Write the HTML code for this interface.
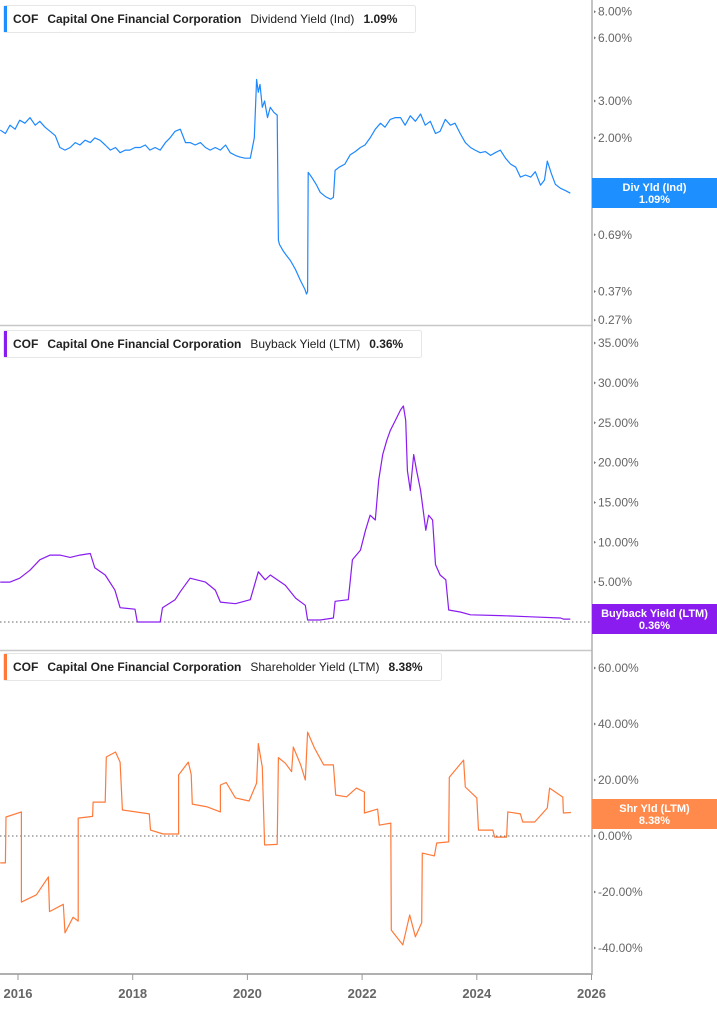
<!DOCTYPE html>
<html><head><meta charset="utf-8">
<style>
html,body{margin:0;padding:0;background:#fff;}
body{width:717px;height:1005px;overflow:hidden;font-family:"Liberation Sans",sans-serif;}
svg text{font-family:"Liberation Sans",sans-serif;}
</style></head>
<body>
<svg id="chart" width="717" height="1005" viewBox="0 0 717 1005" xmlns="http://www.w3.org/2000/svg"></svg>
<script>
const divDates=[2015.69,2015.78,2015.86,2015.95,2016.03,2016.12,2016.21,2016.3,2016.38,2016.47,2016.56,2016.65,2016.73,2016.82,2016.91,2017.0,2017.08,2017.17,2017.26,2017.34,2017.43,2017.52,2017.61,2017.7,2017.78,2017.87,2017.95,2018.04,2018.13,2018.22,2018.3,2018.39,2018.48,2018.57,2018.65,2018.74,2018.83,2018.92,2019.0,2019.09,2019.18,2019.27,2019.35,2019.44,2019.53,2019.62,2019.7,2019.79,2019.87,2019.96,2020.05,2020.12,2020.16,2020.19,2020.22,2020.26,2020.3,2020.35,2020.4,2020.46,2020.52,2020.54,2020.56,2020.62,2020.68,2020.75,2020.84,2020.92,2021.0,2021.03,2021.05,2021.06,2021.12,2021.2,2021.27,2021.36,2021.45,2021.5,2021.53,2021.6,2021.7,2021.79,2021.88,2021.97,2022.05,2022.14,2022.23,2022.32,2022.4,2022.49,2022.58,2022.67,2022.75,2022.84,2022.93,2023.02,2023.1,2023.19,2023.28,2023.36,2023.45,2023.54,2023.62,2023.71,2023.8,2023.89,2023.97,2024.06,2024.15,2024.24,2024.32,2024.41,2024.5,2024.59,2024.68,2024.76,2024.85,2024.94,2025.02,2025.11,2025.18,2025.23,2025.3,2025.37,2025.46,2025.55,2025.63];
const divValues=[2.18,2.1,2.3,2.2,2.43,2.35,2.5,2.3,2.4,2.25,2.15,2.05,1.8,1.75,1.8,1.9,1.85,1.95,1.9,2.0,1.95,1.85,1.75,1.8,1.7,1.75,1.75,1.8,1.8,1.85,1.75,1.8,1.75,1.9,2.0,2.15,2.2,1.9,1.9,1.85,1.9,1.8,1.75,1.8,1.75,1.85,1.7,1.65,1.62,1.6,1.6,2.0,3.8,3.3,3.6,2.8,3.0,2.5,2.8,2.65,2.57,0.65,0.62,0.58,0.55,0.52,0.47,0.42,0.38,0.36,0.37,1.37,1.3,1.2,1.1,1.05,1.02,1.04,1.4,1.45,1.5,1.66,1.72,1.8,1.85,2.0,2.2,2.35,2.25,2.45,2.5,2.5,2.3,2.55,2.4,2.6,2.3,2.4,2.1,2.15,2.45,2.3,2.35,2.1,1.9,1.8,1.75,1.7,1.72,1.65,1.7,1.75,1.6,1.5,1.45,1.3,1.33,1.3,1.38,1.19,1.26,1.55,1.35,1.2,1.15,1.12,1.09];

const bbDates=[2015.69,2015.86,2016.03,2016.21,2016.38,2016.56,2016.73,2016.91,2017.08,2017.26,2017.34,2017.52,2017.69,2017.78,2018.04,2018.08,2018.48,2018.52,2018.74,2018.83,2019.0,2019.27,2019.44,2019.53,2019.79,2020.05,2020.19,2020.31,2020.4,2020.66,2020.84,2021.01,2021.05,2021.27,2021.5,2021.53,2021.76,2021.83,2021.97,2022.06,2022.14,2022.23,2022.29,2022.36,2022.43,2022.49,2022.58,2022.67,2022.72,2022.76,2022.79,2022.84,2022.9,2022.95,2023.02,2023.11,2023.16,2023.23,2023.28,2023.36,2023.46,2023.51,2023.71,2023.89,2024.41,2024.94,2025.46,2025.51,2025.63];
const bbValues=[5.0,5.0,5.5,6.5,7.8,8.4,8.4,8.1,8.4,8.6,6.8,5.9,4.0,1.8,1.6,0,0,1.8,2.8,3.8,5.5,5.0,4.0,2.5,2.3,2.8,6.3,5.3,5.9,4.6,3.0,2.1,0.25,0.25,0.5,2.6,2.8,7.8,9.0,11.5,13.4,12.8,17.8,21.0,22.8,24.0,25.3,26.6,27.1,25.3,19.0,16.5,21.0,19.0,16.5,11.5,13.4,12.8,7.2,5.9,5.3,1.5,1.25,0.9,0.8,0.65,0.5,0.36,0.36];

const shDates=[2015.69,2015.78,2015.79,2016.06,2016.06,2016.32,2016.53,2016.55,2016.79,2016.82,2016.96,2017.05,2017.05,2017.3,2017.31,2017.52,2017.54,2017.7,2017.78,2017.82,2018.29,2018.31,2018.53,2018.8,2018.8,2018.97,2019.02,2019.04,2019.3,2019.53,2019.53,2019.63,2019.79,2020.03,2020.16,2020.19,2020.26,2020.3,2020.52,2020.54,2020.66,2020.77,2020.8,2020.93,2021.01,2021.05,2021.17,2021.33,2021.5,2021.54,2021.73,2021.9,2022.04,2022.04,2022.27,2022.3,2022.5,2022.51,2022.71,2022.83,2022.93,2023.04,2023.05,2023.26,2023.3,2023.51,2023.52,2023.77,2023.8,2024.0,2024.03,2024.28,2024.31,2024.52,2024.54,2024.76,2024.8,2025.01,2025.23,2025.27,2025.5,2025.51,2025.64];
const shValues=[-9.6,-9.6,6.8,8.6,-23.6,-21,-14.6,-27,-24.4,-34.6,-29,-30.4,6.4,7.0,12.1,12.1,28.2,30,26.4,9.3,7.9,2.1,0.7,0.7,21.8,26.4,22,11.4,10.4,8.6,18.2,19.1,13.6,12.5,18.9,33,24.6,-3.2,-3.0,28,26,23,31.8,25.4,20,37.1,31.4,25.4,25.4,14.6,14,17.1,15.7,8.2,9.6,3.9,4.6,-33.6,-38.9,-28.2,-36,-31,-6.1,-7.1,-2.5,-2.1,21,27.1,17.5,13.6,2.1,2.1,-0.4,-0.4,8.6,7.9,5,5,10,17.1,13.9,8.2,8.38];

const yearTicks=[2016,2018,2020,2022,2024,2026];
const divTicks=[8,6,3,2,1,0.69,0.37,0.27];
const bbTicks=[35,30,25,20,15,10,5,0];
const shTicks=[60,40,20,0,-20,-40];

const NS='http://www.w3.org/2000/svg';
const svg=document.getElementById('chart');
function mk(tag,attrs,parent){const e=document.createElementNS(NS,tag);for(const k in attrs)e.setAttribute(k,attrs[k]);(parent||svg).appendChild(e);return e;}
const xS=y=>18+(y-2016)*57.35;
const yDiv=v=>201-Math.log10(v)*209.6;
const yBB=v=>622-v*7.97;
const ySH=v=>836-v*2.8;
const AX=592;

// panel separators
let e;
e=mk('line',{x1:0,y1:325.5,x2:AX,y2:325.5,stroke:'#c8c8c8','stroke-width':1.5});


e=mk('line',{x1:0,y1:650.5,x2:AX,y2:650.5,stroke:'#c8c8c8','stroke-width':1.5});


// zero lines
e=mk('line',{x1:0,y1:yBB(0),x2:AX,y2:yBB(0),stroke:'#666','stroke-width':1,'stroke-dasharray':'1.5,2.5'});


e=mk('line',{x1:0,y1:ySH(0),x2:AX,y2:ySH(0),stroke:'#666','stroke-width':1,'stroke-dasharray':'1.5,2.5'});



function series(dates,vals,yf,color,name){
  let d='';for(let i=0;i<dates.length;i++){d+=(i?'L':'M')+xS(dates[i]).toFixed(1)+','+yf(vals[i]).toFixed(1);}
  const p=mk('path',{d:d,fill:'none',stroke:color,'stroke-width':1.2,'stroke-linejoin':'round'});
  
  
}
series(divDates,divValues,yDiv,'#1e88ff','dividend-yield-line');
series(bbDates,bbValues,yBB,'#8a1cf0','buyback-yield-line');
series(shDates,shValues,ySH,'#ff7a3a','shareholder-yield-line');

// axes
e=mk('line',{x1:AX,y1:0,x2:AX,y2:975,stroke:'#b0b0b0','stroke-width':1.5});


e=mk('line',{x1:0,y1:974,x2:AX,y2:974,stroke:'#b0b0b0','stroke-width':2});



yearTicks.forEach(yr=>{
  const x=xS(yr);
  mk('line',{x1:x,y1:974,x2:x,y2:980,stroke:'#999','stroke-width':1});
  const t=mk('text',{x:x,y:998,'text-anchor':'middle','font-size':13,'font-weight':'bold',fill:'#666'});
  t.textContent=yr;
  
  
});

function yTicks(ticks,yf,fmt,name){
  ticks.forEach(v=>{
    const y=yf(v);
    mk('path',{d:`M${AX+2},${y-1.5}L${AX+4},${y}L${AX+2},${y+1.5}Z`,fill:'#777'});
    const t=mk('text',{x:598,y:y+4,'font-size':12,fill:'#666'});
    t.textContent=fmt(v);
    
    
  });
}
yTicks(divTicks,yDiv,v=>v.toFixed(2)+'%','dividend-y-tick');
yTicks(bbTicks,yBB,v=>v.toFixed(2)+'%','buyback-y-tick');
yTicks(shTicks,ySH,v=>v.toFixed(2)+'%','shareholder-y-tick');

function badge(y,color,l1,l2,name){
  const g=mk('g',{});
  
  
  mk('rect',{x:AX,y:y,width:717-AX,height:30,fill:color},g);
  const a=mk('text',{x:(AX+717)/2,y:y+13,'text-anchor':'middle','font-size':11,'font-weight':'bold',fill:'#fff'},g);a.textContent=l1;
  const b=mk('text',{x:(AX+717)/2,y:y+25,'text-anchor':'middle','font-size':11,'font-weight':'bold',fill:'#fff'},g);b.textContent=l2;
}
badge(178,'#1e8fff','Div Yld (Ind)','1.09%','dividend-value-badge');
badge(604,'#8a1cf0','Buyback Yield (LTM)','0.36%','buyback-value-badge');
badge(799,'#ff8a4c','Shr Yld (LTM)','8.38%','shareholder-value-badge');

function legend(y,w,color,metric,val,name){
  const g=mk('g',{});
  
  
  mk('rect',{x:3.5,y:y+0.5,width:w,height:27,fill:'#fff',stroke:'#e6e6e6',rx:2},g);
  mk('rect',{x:4,y:y+1,width:3,height:26,fill:color},g);
  const t=mk('text',{x:13,y:y+18,'font-size':12,fill:'#222'},g);
  t.innerHTML=`<tspan font-weight="bold">COF</tspan><tspan dx="9" font-weight="bold">Capital One Financial Corporation</tspan><tspan dx="9">${metric}</tspan><tspan dx="9" font-weight="bold">${val}</tspan>`;
}
legend(5,412,'#1e8fff','Dividend Yield (Ind)','1.09%','dividend-legend');
legend(330,418,'#8a1cf0','Buyback Yield (LTM)','0.36%','buyback-legend');
legend(653,438,'#ff7a3a','Shareholder Yield (LTM)','8.38%','shareholder-legend');
</script>
</body></html>
